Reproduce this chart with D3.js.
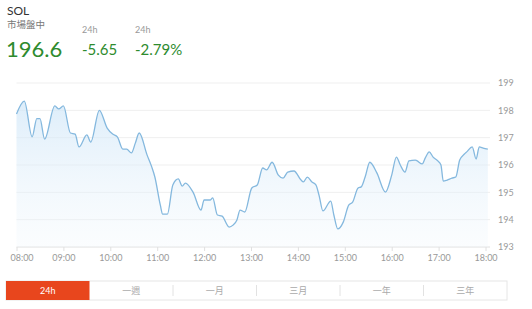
<!DOCTYPE html>
<html>
<head>
<meta charset="utf-8">
<script src="https://cdn.jsdelivr.net/npm/d3@7"></script>
<style>
  body { margin: 0; background: #fff; }
  svg { display: block; font-family: Lato, "Noto Sans CJK TC", sans-serif; }
</style>
</head>
<body>
<div id="chart"></div>
<script>
// price samples (time of day, price)
const times = ["08:00","08:10","08:20","08:26","08:30","08:36","08:49","08:54","09:00","09:09",
  "09:15","09:20","09:30","09:35","09:46","09:56","10:03","10:09","10:16","10:21",
  "10:27","10:32","10:37","10:47","10:53","10:57","11:04","11:07","11:13","11:20",
  "11:27","11:32","11:36","11:46","11:56","12:00","12:08","12:11","12:17","12:23",
  "12:32","12:37","12:42","12:46","12:52","13:01","13:08","13:15","13:20","13:27",
  "13:35","13:41","13:47","13:55","14:04","14:07","14:12","14:18","14:23","14:27",
  "14:32","14:42","14:46","14:51","14:58","15:05","15:10","15:17","15:21","15:26",
  "15:32","15:41","15:52","16:00","16:06","16:11","16:17","16:22","16:30","16:32",
  "16:39","16:43","16:48","16:53","16:59","17:03","17:06","17:11","17:17","17:22",
  "17:27","17:33","17:36","17:43","17:48","17:52","17:57","18:03"];
const prices = [197.87,198.34,197.03,197.70,197.70,196.95,198.16,198.05,198.16,197.17,
  197.13,196.66,197.10,196.84,198.00,197.35,197.13,197.03,196.58,196.58,
  196.44,196.80,197.17,196.37,195.93,195.56,194.53,194.20,194.20,195.27,
  195.49,195.23,195.34,195.00,194.35,194.72,194.72,194.80,194.17,194.13,
  193.73,193.80,193.99,194.35,194.28,195.16,195.27,195.89,195.82,196.10,
  195.63,195.52,195.74,195.78,195.45,195.38,195.56,195.38,195.27,194.90,
  194.32,194.68,194.17,193.66,193.91,194.53,194.64,195.16,195.20,195.56,
  196.10,195.71,195.01,195.63,196.29,196.00,195.74,196.15,196.18,196.16,
  196.04,196.26,196.48,196.29,196.15,196.00,195.41,195.45,195.52,195.56,
  196.18,196.40,196.48,196.66,196.22,196.66,196.62,196.58];
const yTicks = [193,194,195,196,197,198,199];
const tabs = ["24h","一週","一月","三月","一年","三年"];

const parse = d3.timeParse("%H:%M");
const data = times.map((t, i) => ({t: parse(t), v: prices[i]}));

const width = 532, height = 309;
const svg = d3.select("#chart").append("svg")
  .attr("width", width)
  .attr("height", height);

// header
svg.append("text").attr("x", 7).attr("y", 15).attr("font-size", "12px").attr("fill", "#333").text("SOL");
svg.append("text").attr("x", 7).attr("y", 28).attr("font-size", "9.5px").attr("fill", "#777")
  .attr("font-family", "'Noto Sans CJK TC'").text("市場盤中");
svg.append("text").attr("x", 6).attr("y", 57).attr("font-size", "22px").attr("fill", "#2e8b2e").text("196.6");
svg.append("text").attr("x", 82).attr("y", 33).attr("font-size", "9px").attr("fill", "#999").text("24h");
svg.append("text").attr("x", 82).attr("y", 55).attr("font-size", "15px").attr("fill", "#2e8b2e").text("-5.65");
svg.append("text").attr("x", 135).attr("y", 33).attr("font-size", "9px").attr("fill", "#999").text("24h");
svg.append("text").attr("x", 135).attr("y", 55).attr("font-size", "15px").attr("fill", "#2e8b2e").text("-2.79%");

// scales
const x = d3.scaleTime()
  .domain([parse("08:00"), parse("18:00")])
  .range([16.5, 485.5]);
const y = d3.scaleLinear()
  .domain([193, 199])
  .range([247, 83]);
const gridRight = 490;

// grid
svg.append("g")
  .selectAll("line")
  .data(yTicks)
  .enter().append("line")
  .attr("x1", x.range()[0])
  .attr("x2", gridRight)
  .attr("y1", d => y(d))
  .attr("y2", d => y(d))
  .style("stroke", d => d === 193 ? "#e0e0e0" : "#efefef")
  .style("stroke-width", 1);

// y labels
svg.append("g")
  .attr("transform", "translate(" + gridRight + ",0)")
  .call(d3.axisRight(y).tickValues(yTicks).tickSize(0).tickPadding(8).tickFormat(d3.format("d")))
  .call(g => g.select(".domain").remove())
  .selectAll("text")
  .attr("fill", "#999")
  .attr("font-family", "Lato")
  .attr("font-size", "9px");

// x axis
const xAxis = svg.append("g")
  .attr("transform", "translate(0," + y(193) + ")")
  .call(d3.axisBottom(x).ticks(d3.timeHour.every(1)).tickFormat(d3.timeFormat("%H:%M")).tickSize(4).tickPadding(4))
  .call(g => g.select(".domain").remove());
xAxis.selectAll("line").attr("stroke", "#e0e0e0");
xAxis.selectAll("text")
  .attr("fill", "#999")
  .attr("font-family", "Lato")
  .attr("font-size", "9px")
  .attr("dx", (d, i) => i === 0 ? 5 : 0);

// gradient
const defs = svg.append("defs");
const grad = defs.append("linearGradient")
  .attr("id", "fillGrad")
  .attr("x1", 0).attr("y1", 0).attr("x2", 0).attr("y2", 1);
grad.append("stop").attr("offset", "0%").attr("stop-color", "#cfe6f8").attr("stop-opacity", 0.7);
grad.append("stop").attr("offset", "100%").attr("stop-color", "#eef6fc").attr("stop-opacity", 0.25);

const area = d3.area()
  .x(d => x(d.t))
  .y0(y(193))
  .y1(d => y(d.v))
  .curve(d3.curveMonotoneX);
const line = d3.line()
  .x(d => x(d.t))
  .y(d => y(d.v))
  .curve(d3.curveMonotoneX);

svg.append("path")
  .datum(data)
  .attr("d", area)
  .style("fill", "url(#fillGrad)");
svg.append("path")
  .datum(data)
  .attr("d", line)
  .style("fill", "none")
  .style("stroke", "#84b8de")
  .style("stroke-width", 1.3);

// range tabs
const tabX = d3.scaleBand().domain(tabs).range([6, 507]);
const tabTop = 281, tabH = 19;
svg.append("rect")
  .attr("x", 6).attr("y", tabTop)
  .attr("width", 501).attr("height", tabH)
  .style("fill", "#fff")
  .style("stroke", "#e6e6e6")
  .style("stroke-width", 1);
const tab = svg.selectAll(".tab")
  .data(tabs)
  .enter().append("g")
  .attr("class", "tab")
  .attr("transform", d => "translate(" + tabX(d) + "," + tabTop + ")");
tab.filter((d, i) => i === 0).append("rect")
  .attr("width", tabX.bandwidth())
  .attr("height", tabH)
  .style("fill", "#e8461d");
tab.filter((d, i) => i > 1).append("line")
  .attr("x1", 0).attr("x2", 0)
  .attr("y1", 4).attr("y2", tabH - 4)
  .style("stroke", "#e2e2e2");
tab.append("text")
  .attr("x", tabX.bandwidth() / 2)
  .attr("y", tabH / 2)
  .attr("dy", "0.35em")
  .attr("text-anchor", "middle")
  .attr("font-size", "9px")
  .attr("font-family", "Lato, 'Noto Sans CJK TC'")
  .attr("fill", (d, i) => i === 0 ? "#fff" : "#aaa")
  .text(d => d);
</script>
</body>
</html>
